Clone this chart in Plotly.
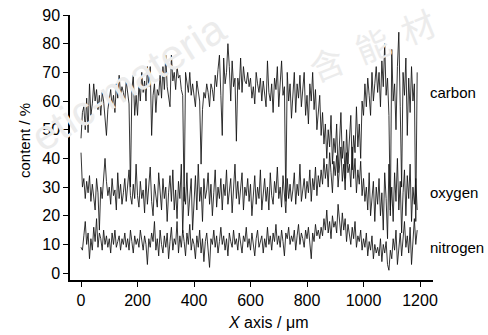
import plotly.graph_objects as go

x_um = [i * 5 for i in range(239)]

carbon = [
    47, 56, 58, 50, 61, 49, 66, 55, 59, 66,
    60, 64, 57, 62, 55, 63, 60, 52, 48, 57,
    60, 64, 58, 62, 56, 66, 61, 69, 62, 65,
    63, 60, 67, 63, 59, 30, 64, 69, 55, 62,
    55, 66, 60, 70, 63, 67, 60, 72, 65, 72,
    48, 62, 66, 56, 64, 62, 69, 61, 72, 64,
    76, 65, 62, 58, 76, 67, 70, 64, 72, 68,
    69, 64, 62, 25, 70, 67, 63, 70, 62, 66,
    62, 58, 67, 63, 60, 38, 57, 63, 61, 66,
    63, 58, 66, 64, 60, 69, 65, 71, 76, 62,
    48, 75, 66, 70, 80, 72, 60, 74, 65, 68,
    46, 68, 64, 75, 63, 72, 67, 66, 70, 65,
    68, 61, 65, 59, 70, 66, 63, 68, 60, 67,
    62, 58, 74, 63, 60, 66, 56, 68, 64, 72,
    58, 66, 74, 62, 65, 25, 70, 60, 66, 54,
    63, 70, 56, 66, 61, 69, 58, 64, 70, 55,
    62, 52, 66, 60, 70, 57, 64, 50, 58, 62,
    48, 56, 45, 52, 40, 50, 44, 55, 38, 47,
    42, 52, 35, 48, 56, 40, 46, 33, 50, 38,
    45, 55, 36, 48, 42, 58, 44, 52, 40, 60,
    55, 66, 58, 68, 62, 55, 70, 60, 66, 72,
    63, 70, 58, 74, 65, 80, 62, 68, 55, 20,
    78, 60, 66, 50, 72, 84, 58, 30, 70, 62,
    75, 48, 68, 56, 72, 60, 66, 18, 70,
]

oxygen = [
    42, 30, 33, 26, 32, 28, 34, 25, 31, 27,
    22, 33, 28, 15, 30, 26, 35, 40, 32, 27,
    30, 24, 33, 27, 29, 22, 35, 26, 31, 24,
    28, 33, 25, 30, 36, 27, 24, 31, 26, 38,
    27, 23, 32, 26, 29, 21, 33, 24, 30, 37,
    25, 20, 31, 27, 23, 35, 28, 22, 33, 26,
    30, 18, 28, 34, 25, 36, 22, 29, 19, 32,
    26, 38, 14, 30, 24, 35, 20, 28, 33, 15,
    27, 34, 22, 38, 25, 30, 18, 33, 26, 29,
    35, 24, 31, 20, 28, 36, 23, 30, 26, 33,
    22, 31, 27, 36, 24, 29, 33, 21, 30, 38,
    26, 32, 24, 29, 35, 22, 30, 27, 33, 25,
    31, 20, 28, 34, 24, 30, 26, 36, 22, 29,
    33, 25, 30, 22, 35, 27, 24, 32, 28, 37,
    26, 30, 23, 34, 28, 21, 33, 26, 31, 25,
    29, 35, 24, 31, 27, 38, 25, 30, 33, 26,
    32, 28, 36, 25, 33, 29, 37, 27, 34, 30,
    36, 31, 40, 33, 38, 30, 42, 35, 28, 39,
    34, 41, 30, 37, 44, 32, 38, 29, 42, 35,
    38, 30, 44, 33, 40, 28, 36, 31, 39, 27,
    33, 25, 30, 22, 35, 20, 28, 32, 18, 30,
    24, 33, 20, 28, 15, 35, 26, 12, 38, 22,
    30, 18, 35, 25, 40, 22, 32, 14, 28, 36,
    20, 34, 26, 38, 18, 30, 24, 33, 22,
]

nitrogen = [
    9, 8, 13, 18, 10, 14, 5, 12, 8, 16,
    11, 19, 9, 14, 12, 8, 15, 10, 13, 9,
    12, 7, 14, 10, 15, 9, 11, 13, 8, 12,
    10, 14, 9, 12, 8, 15, 11, 7, 13, 10,
    12, 9, 15, 11, 8, 13, 10, 3, 12, 9,
    14, 11, 18, 8, 12, 6, 15, 10, 7, 13,
    9, 14, 5, 11, 16, 8, 12, 10, 18, 7,
    13, 9, 15, 11, 6, 14, 10, 17, 8, 12,
    10, 5, 13, 9, 15, 7, 12, 4, 11, 14,
    8, 2, 12, 10, 15, 9, 13, 7, 11, 16,
    10, 13, 8, 12, 6, 14, 11, 9, 15, 10,
    12, 8, 14, 10, 7, 13, 11, 16, 9, 12,
    8, 14, 10, 6, 12, 15, 9, 11, 13, 7,
    12, 9, 16, 10, 13, 8, 14, 11, 17, 10,
    13, 9, 15, 11, 6, 14, 12, 16, 10, 13,
    11, 15, 8, 13, 17, 10, 14, 12, 9, 15,
    12, 16, 10, 5, 14, 11, 17, 13, 15, 12,
    16, 13, 19, 15, 22, 14, 18, 12, 20, 16,
    18, 14, 24, 17, 13, 21, 15, 19, 11, 17,
    14, 10, 16, 12, 18, 9, 13, 11, 15, 8,
    12, 9, 14, 6, 11, 8, 13, 5, 10, 7,
    9, 6, 12, 4, 10, 7, 11, 3, 1, 8,
    5, 12, 8, 15, 3, 10, 14, 6, 11, 18,
    9, 13, 7, 16, 3, 12, 19, 10, 15,
]

series_names = ["carbon", "oxygen", "nitrogen"]
series_values = [carbon, oxygen, nitrogen]
label_y = [63, 28, 9]

x_ticks = [0, 200, 400, 600, 800, 1000, 1200]
y_ticks = [0, 10, 20, 30, 40, 50, 60, 70, 80, 90]

FONT = "Liberation Sans, Arial, sans-serif"
W, H = 488, 335
L, R, T, B = 70, 55, 15, 55
PW, PH = W - L - R, H - T - B


def px(xp):
    return (xp - L) / PW


def py(yp):
    return (H - B - yp) / PH


fig = go.Figure()

# faint watermark
fig.add_annotation(xref="paper", yref="paper", x=px(128), y=py(82),
                   xanchor="center", yanchor="middle",
                   text="etic-materia", showarrow=False, textangle=-32,
                   font=dict(family=FONT, size=42, color="#ececec"))
fig.add_annotation(xref="paper", yref="paper", x=px(372), y=py(45),
                   xanchor="center", yanchor="middle",
                   text="含  能  材", showarrow=False, textangle=-22,
                   font=dict(family="Noto Sans CJK SC", size=34, color="#ececec"))

for name, vals in zip(series_names, series_values):
    fig.add_trace(go.Scatter(x=x_um, y=vals, mode="lines", name=name,
                             line=dict(color="#111111", width=0.85),
                             showlegend=False))

for name, ly in zip(series_names, label_y):
    fig.add_annotation(x=px(428), y=ly, xref="paper", yref="y", text=name,
                       showarrow=False, xanchor="left", yanchor="middle",
                       font=dict(family=FONT, size=15, color="black"))

# axis titles
fig.add_annotation(xref="paper", yref="paper", x=px(268), y=py(322),
                   text="<i>X</i> axis / μm", showarrow=False,
                   xanchor="center", yanchor="middle",
                   font=dict(family=FONT, size=16, color="black"))
fig.add_annotation(xref="paper", yref="paper", x=px(24), y=py(141),
                   text="content / %", showarrow=False, textangle=-90,
                   xanchor="center", yanchor="middle",
                   font=dict(family=FONT, size=15, color="black"))

fig.update_layout(
    width=W, height=H,
    margin=dict(l=L, r=R, t=T, b=B),
    paper_bgcolor="white", plot_bgcolor="white",
    font=dict(family=FONT, size=16, color="black"),
    xaxis=dict(range=[-39, 1246], tickvals=x_ticks, showgrid=False, zeroline=False,
               showline=True, linecolor="black", linewidth=1.5, ticks="outside",
               ticklen=5, tickwidth=1.3, tickcolor="black", automargin=False,
               ticklabeloverflow="allow", tickfont=dict(family=FONT, size=16)),
    yaxis=dict(range=[-2.4, 90], tickvals=y_ticks, showgrid=False, zeroline=False,
               showline=True, linecolor="black", linewidth=1.5, ticks="outside",
               ticklen=5, tickwidth=1.3, tickcolor="black", automargin=False,
               ticklabeloverflow="allow", tickfont=dict(family=FONT, size=16)),
)

fig.write_html(
    "out.html",
    config={"displayModeBar": False},
    post_script="document.body.style.margin='0';document.documentElement.style.overflow='hidden';",
)
